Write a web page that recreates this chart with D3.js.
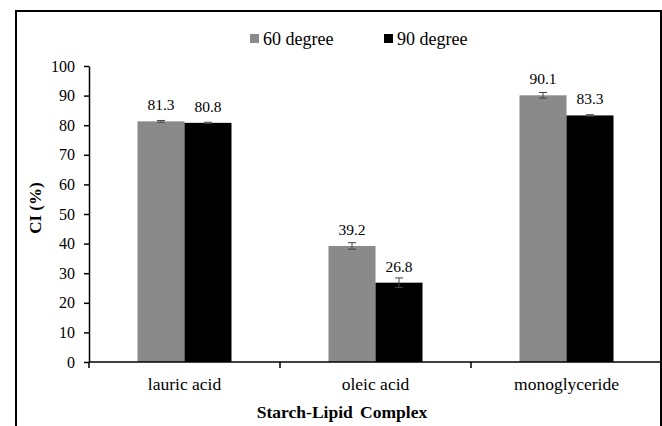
<!DOCTYPE html>
<html>
<head>
<meta charset="utf-8">
<script src="https://cdn.jsdelivr.net/npm/d3@7"></script>
<style>
  body { margin: 0; background: #fff; }
</style>
</head>
<body>
<svg id="chart" width="662" height="426"></svg>
<script>
// data
var categories = ["lauric acid", "oleic acid", "monoglyceride"];
var series = ["60 degree", "90 degree"];
var deg60 = [81.3, 39.2, 90.1];
var deg90 = [80.8, 26.8, 83.3];
var err60 = [0.3, 1.1, 0.95];
var err90 = [0.2, 1.6, 0.25];
var yTicks = [0, 10, 20, 30, 40, 50, 60, 70, 80, 90, 100];
var colours = ["#8a8a8a", "#000000"];
var serif = "'Times New Roman', 'Liberation Serif', Tinos, 'DejaVu Serif', serif";

var rows = [];
categories.forEach(function(c, i) {
  rows.push({cat: c, s: series[0], value: deg60[i], err: err60[i]});
  rows.push({cat: c, s: series[1], value: deg90[i], err: err90[i]});
});

var svg = d3.select("#chart"),
    margin = {top: 66, left: 89, right: 0, bottom: 64},
    width = +svg.attr("width"),
    height = +svg.attr("height");

// outer frame (bottom edge is cut off in the original)
svg.append("rect")
  .attr("x", 16).attr("y", 11)
  .attr("width", 645).attr("height", 500)
  .attr("fill", "none")
  .attr("stroke", "#000")
  .attr("stroke-width", 2);

var x0 = d3.scaleBand()
  .domain(categories)
  .range([margin.left, width - margin.right]);

var groupW = 94;
var x1 = d3.scaleBand()
  .domain(series)
  .range([0, groupW]);
var offset = (x0.bandwidth() - groupW) / 2;

var y = d3.scaleLinear()
  .domain([0, 100])
  .range([height - margin.bottom, margin.top]);

var colour = d3.scaleOrdinal().domain(series).range(colours);

// bars
svg.append("g").selectAll("rect")
  .data(rows)
  .join("rect")
    .attr("x", d => x0(d.cat) + offset + x1(d.s))
    .attr("y", d => y(d.value))
    .attr("width", x1.bandwidth())
    .attr("height", d => y(0) - y(d.value))
    .attr("fill", d => colour(d.s));

// error bars
var eb = svg.append("g")
  .attr("stroke", "#444")
  .attr("stroke-width", 1);
rows.forEach(function(d) {
  var cx = x0(d.cat) + offset + x1(d.s) + x1.bandwidth() / 2;
  eb.append("line").attr("x1", cx).attr("x2", cx)
    .attr("y1", y(d.value + d.err)).attr("y2", y(d.value - d.err));
  eb.append("line").attr("x1", cx - 4).attr("x2", cx + 4)
    .attr("y1", y(d.value + d.err)).attr("y2", y(d.value + d.err));
  eb.append("line").attr("x1", cx - 4).attr("x2", cx + 4)
    .attr("y1", y(d.value - d.err)).attr("y2", y(d.value - d.err));
});

// value labels
svg.append("g").selectAll("text")
  .data(rows)
  .join("text")
    .attr("x", d => x0(d.cat) + offset + x1(d.s) + x1.bandwidth() / 2)
    .attr("y", d => y(d.value) - 11)
    .attr("text-anchor", "middle")
    .attr("font-size", 15.5)
    .text(d => d.value.toFixed(1));

// y axis
var yAxis = svg.append("g")
  .attr("transform", "translate(" + margin.left + ",0)")
  .call(d3.axisLeft(y).tickValues(yTicks).tickSize(5).tickPadding(9).tickSizeOuter(0));
yAxis.select(".domain").attr("stroke-width", 1.5);
yAxis.selectAll(".tick line").attr("stroke-width", 1.5);
yAxis.selectAll("text").attr("font-size", 16).attr("fill", "#000");

// x axis: line across, ticks at category boundaries
var xg = svg.append("g");
xg.append("line")
  .attr("x1", margin.left).attr("x2", width - margin.right)
  .attr("y1", y(0)).attr("y2", y(0))
  .attr("stroke", "#000").attr("stroke-width", 1.5);
var bounds = categories.map(c => x0(c)).concat([x0.range()[1]]);
xg.selectAll(".bt")
  .data(bounds)
  .join("line")
    .attr("x1", d => d).attr("x2", d => d)
    .attr("y1", y(0)).attr("y2", y(0) + 6)
    .attr("stroke", "#000").attr("stroke-width", 1.5);
xg.selectAll(".cl")
  .data(categories)
  .join("text")
    .attr("x", d => x0(d) + x0.bandwidth() / 2)
    .attr("y", y(0) + 28)
    .attr("text-anchor", "middle")
    .attr("font-size", 17.5)
    .text(d => d);

// axis titles
svg.append("text")
  .attr("x", 342).attr("y", 418)
  .attr("text-anchor", "middle")
  .attr("font-size", 17.5)
  .attr("font-weight", "bold")
  .style("word-spacing", "3px")
  .text("Starch-Lipid Complex");

svg.append("text")
  .attr("transform", "translate(41," + y(52) + ") rotate(-90)")
  .attr("text-anchor", "middle")
  .attr("font-size", 17)
  .attr("font-weight", "bold")
  .text("CI (%)");

// legend
var legend = svg.append("g");
var legX = [250, 384];
series.forEach(function(s, i) {
  legend.append("rect")
    .attr("x", legX[i]).attr("y", 34)
    .attr("width", 9).attr("height", 9)
    .attr("fill", colour(s));
  legend.append("text")
    .attr("x", legX[i] + 13).attr("y", 45)
    .attr("font-size", 18)
    .text(s);
});

// serif everywhere, like the original
svg.selectAll("text").style("font-family", serif).attr("font-family", serif);
</script>
</body>
</html>
